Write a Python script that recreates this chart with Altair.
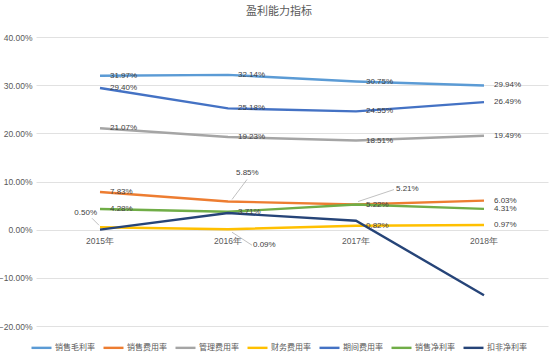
import altair as alt
import pandas as pd

# ---------------- data ----------------
years = ["2015年", "2016年", "2017年", "2018年"]
series = ["销售毛利率", "销售费用率", "管理费用率", "财务费用率", "期间费用率", "销售净利率", "扣非净利率"]
gross_margin = [31.97, 32.14, 30.75, 29.94]
selling_exp = [7.83, 5.85, 5.22, 6.03]
admin_exp = [21.07, 19.23, 18.51, 19.49]
finance_exp = [0.50, 0.09, 0.82, 0.97]
period_exp = [29.40, 25.18, 24.55, 26.49]
net_margin = [4.28, 3.71, 5.21, 4.31]
deducted_margin = [0.02, 3.45, 1.85, -13.60]
has_labels = [True, True, True, True, True, True, False]
y_ticks = [-20, -10, 0, 10, 20, 30, 40]

# ---------------- style ----------------
colors = ["#5B9BD5", "#ED7D31", "#A5A5A5", "#FFC000", "#4472C4", "#70AD47", "#264478"]
# callout labels: (series, year) -> (dx, dy, align, leader offsets x1, y1, x2, y2)
callouts = {
    ("财务费用率", "2015年"): (-3, -14, "right", -1, -2, -8, -9),
    ("财务费用率", "2016年"): (25, 16, "left", 4, 3, 24, 16),
    ("销售费用率", "2016年"): (8, -28, "left", 4, -2, 19, -22),
    ("销售净利率", "2017年"): (40, -16, "left", 2, -3, 38, -15),
}
LABEL_FONT = "Liberation Sans"
CJK_FONT = "Noto Sans CJK SC"

all_values = [gross_margin, selling_exp, admin_exp, finance_exp, period_exp, net_margin, deducted_margin]
rows = []
for s, vals, lab in zip(series, all_values, has_labels):
    for y, v in zip(years, vals):
        rows.append({"series": s, "year": y, "value": v, "labelled": lab})
df = pd.DataFrame(rows)
df["label"] = df["value"].map(lambda v: f"{v:.2f}%")

x_enc = alt.X("year:N", sort=years, axis=None,
              scale=alt.Scale(type="point", padding=0.5, domain=years))
y_enc = alt.Y("value:Q",
              scale=alt.Scale(domain=[-20, 40], nice=False, zero=False),
              axis=alt.Axis(values=y_ticks, title=None, domain=False, ticks=False,
                            labelExpr="format(datum.value, '.2f') + '%'",
                            labelFont=LABEL_FONT, labelFontSize=8.5, labelColor="#595959",
                            labelPadding=4, gridColor="#D9D9D9", gridWidth=0.8))

base = alt.Chart(df)

lines = base.mark_line(strokeWidth=2.4).encode(
    x=x_enc,
    y=y_enc,
    color=alt.Color("series:N", sort=series,
                    scale=alt.Scale(domain=series, range=colors),
                    legend=alt.Legend(title=None, orient="none", direction="horizontal",
                                      columns=7, legendX=-6, legendY=299, padding=0,
                                      symbolType="stroke", symbolSize=400, symbolStrokeWidth=2.4,
                                      labelFont=CJK_FONT, labelFontSize=8, labelColor="#595959",
                                      labelOffset=2, columnPadding=3)),
    order=alt.Order("year:N"),
)

callout_keys = list(callouts.keys())
is_callout = " || ".join(
    f"(datum.series == '{s}' && datum.year == '{y}')" for s, y in callout_keys
)

normal_labels = base.transform_filter("datum.labelled").transform_filter(
    f"!({is_callout})"
).mark_text(align="left", baseline="middle", dx=10, font=LABEL_FONT, fontSize=8,
            color="#404040").encode(x=x_enc, y=alt.Y("value:Q"), text="label:N")

layers = [lines, normal_labels]
for (s, y), (dx, dy, align, lx1, ly1, lx2, ly2) in callouts.items():
    sub = base.transform_filter(f"datum.series == '{s}' && datum.year == '{y}'")
    layers.append(sub.mark_rule(color="#A6A6A6", strokeWidth=0.7,
                                xOffset=lx1, yOffset=ly1, x2Offset=lx2, y2Offset=ly2).encode(
        x=x_enc, y=alt.Y("value:Q"), x2=alt.X2("year:N"), y2=alt.Y2("value:Q")))
    layers.append(sub.mark_text(align=align, baseline="middle", dx=dx, dy=dy,
                                font=LABEL_FONT, fontSize=8, color="#404040").encode(
        x=x_enc, y=alt.Y("value:Q"), text="label:N"))

xlabels = alt.Chart(pd.DataFrame({"year": years})).mark_text(
    baseline="middle", dy=11, font=LABEL_FONT, fontSize=8.5, color="#595959"
).encode(x=x_enc, y=alt.datum(0), text="year:N")
layers.append(xlabels)

chart = alt.layer(*layers).properties(
    width=512, height=289,
    autosize=alt.AutoSizeParams(type="none"),
    padding={"left": 36, "top": 37, "right": 2, "bottom": 29},
    background="white",
    title=alt.TitleParams("盈利能力指标", font=CJK_FONT, fontSize=11, fontWeight="normal",
                          color="#595959", anchor="middle", dx=-13, offset=16),
).configure_view(stroke=None)

chart.save("out.html", embed_options={"renderer": "svg", "actions": False})
